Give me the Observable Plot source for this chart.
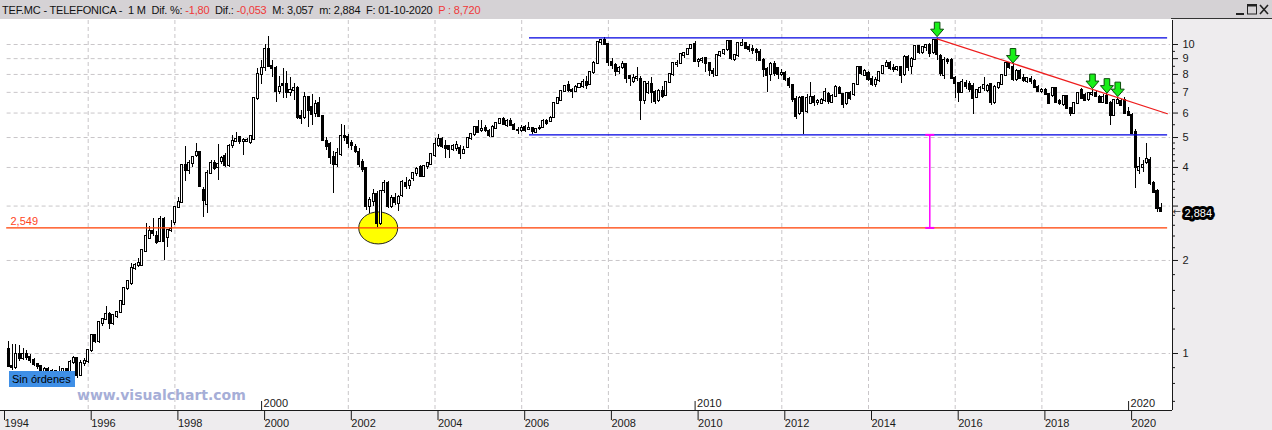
<!DOCTYPE html>
<html>
<head>
<meta charset="utf-8">
<script src="https://cdn.jsdelivr.net/npm/d3@7"></script>
<script src="https://cdn.jsdelivr.net/npm/@observablehq/plot@0.6"></script>
<style>
html,body{margin:0;padding:0;background:#eeecee;}
#wrap{position:relative;width:1272px;height:430px;overflow:hidden;background:#eeecee;font-family:"Liberation Sans",Arial,sans-serif;}
#titlebar{position:absolute;left:0;top:0;width:1272px;height:19px;background:#d5d2d5;}
#title{position:absolute;left:2px;top:1px;font-size:11px;line-height:18px;white-space:pre;color:#111;letter-spacing:-0.2px;}
#title .neg{color:#f03838;}
#plotbg{position:absolute;left:0;top:19px;width:1172px;height:391px;background:#fff;}
#rtop{position:absolute;left:1171px;top:18px;width:101px;height:1px;background:#333;}
#chart{position:absolute;left:0;top:20px;}
#orders{position:absolute;left:9px;top:371px;width:63px;height:16px;padding-left:3px;background:#3f8fe6;font-size:11px;line-height:16px;color:#000;white-space:nowrap;}
#wm{position:absolute;left:77px;top:388px;font-family:"DejaVu Sans",Verdana,sans-serif;font-weight:bold;font-size:14px;line-height:14px;color:#a6aed7;white-space:nowrap;}
#winbtns{position:absolute;left:1232px;top:3px;}
</style>
</head>
<body>
<div id="wrap">
  <div id="titlebar"></div>
  <div id="title">TEF.MC - TELEFONICA -  1 M  Dif. %: <span class="neg">-1,80</span>  Dif.: <span class="neg">-0,053</span>  M: 3,057  m: 2,884  F: 01-10-2020  <span class="neg">P : 8,720</span></div>
  <svg id="winbtns" width="40" height="14">
    <rect x="4" y="10" width="8" height="2" fill="#222"/>
    <rect x="15.5" y="1.5" width="9" height="9.5" fill="none" stroke="#222" stroke-width="1"/>
    <rect x="15.5" y="1.5" width="9" height="2" fill="#222"/>
    <path d="M28,2 L36,11 M36,2 L28,11" stroke="#222" stroke-width="1.6"/>
  </svg>
  <div id="plotbg"></div>
  <div id="rtop"></div>
  <div id="chart"></div>
  <div id="orders">Sin órdenes</div>
  <div id="wm">www.visualchart.com</div>
</div>
<script>
// ---- Monthly OHLC, Telefonica (TEF.MC), first candle March 1994 ----
const firstYear = 1994;
const firstMonth = 2; // months after January 1994
const open = [
  1.03,0.91,0.90,0.99,0.96,0.99,0.97,0.95,0.92,0.905,
  0.87,0.89,0.86,0.875,0.86,0.87,0.885,0.865,0.935,0.96,0.85,0.93,
  0.94,1.02,1.14,1.09,1.25,1.29,1.34,1.25,1.32,1.36,1.44,1.62,
  1.68,1.88,1.93,1.93,2.14,2.36,2.48,2.39,2.30,2.72,2.38,2.50,
  2.66,2.97,3.08,4.06,3.90,4.13,4.36,4.46,3.38,3.04,3.83,4.13,
  4.00,4.18,4.34,4.06,4.70,4.87,5.00,4.85,4.87,4.82,4.92,6.68,
  8.00,8.40,9.60,8.50,8.35,7.02,7.40,7.42,7.00,7.10,7.20,5.85,
  5.80,6.75,6.27,6.00,6.45,5.83,4.85,4.74,4.31,4.10,4.40,5.05,
  5.00,4.78,4.64,4.47,4.14,3.96,2.98,3.10,3.28,2.64,3.36,3.56,
  3.00,3.18,3.05,3.24,3.55,3.50,3.68,3.82,4.00,3.75,4.03,4.10,
  4.37,4.72,4.92,4.68,4.66,4.57,4.60,4.60,4.45,4.64,4.96,5.12,
  5.40,5.25,5.35,5.22,5.04,5.36,5.53,5.72,5.48,5.62,5.48,5.28,
  5.28,5.38,5.30,5.35,5.20,5.35,5.40,5.62,5.65,5.80,6.45,6.60,
  7.06,7.35,7.10,7.05,7.25,7.30,7.55,7.45,8.10,8.66,10.13,10.30,
  10.00,8.75,8.55,8.17,8.40,8.60,7.85,7.60,7.75,7.72,6.59,7.00,
  7.45,7.00,6.60,7.06,6.85,7.55,7.98,8.60,8.66,9.20,9.30,9.70,
  10.00,8.80,8.85,9.00,8.66,8.20,7.95,9.20,9.35,9.60,10.20,8.97,
  9.20,9.95,10.05,9.75,9.60,9.55,9.45,8.90,8.30,8.00,8.62,8.35,
  8.00,8.06,7.72,7.35,6.63,5.96,6.75,6.05,6.45,6.75,6.50,6.45,
  6.60,6.87,6.50,6.80,7.20,6.87,6.42,6.95,6.87,7.45,8.40,7.95,
  8.05,7.70,7.42,7.65,8.05,8.47,8.70,8.38,8.28,8.40,8.00,9.08,
  8.50,8.95,9.85,9.45,9.75,9.95,9.40,10.30,9.13,7.94,8.90,8.90,
  7.75,7.46,7.00,7.50,7.45,7.30,6.75,7.00,7.18,7.10,7.40,6.51,
  7.27,7.40,7.94,8.70,8.40,7.70,8.20,7.75,7.60,7.72,7.60,7.27,
  7.05,7.10,6.90,6.83,7.18,6.55,6.38,6.79,6.19,6.00,6.42,7.10,
  6.85,6.62,6.88,6.95,6.75,6.51,6.79,6.46,5.90,6.46,6.55,6.60,
  6.04,5.90,5.20,3.90,4.00,4.16,4.21,3.56,3.35,2.95
];
const high = [
  1.09,1.07,1.07,1.06,1.04,1.02,0.99,0.96,0.93,0.91,
  0.90,0.90,0.89,0.88,0.91,0.89,0.89,0.95,0.98,0.96,0.95,0.96,
  1.03,1.15,1.15,1.27,1.30,1.42,1.36,1.34,1.37,1.48,1.63,1.72,
  1.96,1.95,2.03,2.16,2.63,2.58,2.73,2.48,2.78,2.75,2.52,2.69,
  2.99,3.20,4.10,4.66,4.20,4.35,4.79,4.50,3.45,3.90,4.20,4.20,
  4.74,4.35,4.45,4.75,5.07,5.20,5.05,4.95,4.95,5.05,6.75,8.35,
  8.90,10.00,10.60,8.90,8.50,7.85,8.36,8.20,7.80,7.50,7.30,6.10,
  7.00,6.80,6.90,6.60,6.75,5.90,5.00,4.80,4.50,4.60,5.50,5.45,
  5.10,4.90,4.75,4.60,4.25,4.00,3.20,3.40,3.35,3.37,3.62,3.60,
  3.25,3.30,3.25,3.62,3.70,3.65,3.85,4.00,4.05,4.05,4.15,4.42,
  4.98,5.10,5.00,4.90,4.70,4.75,4.85,4.70,4.66,5.00,5.15,5.40,
  5.68,5.68,5.45,5.30,5.45,5.60,5.75,5.80,5.70,5.75,5.55,5.40,
  5.45,5.45,5.60,5.40,5.35,5.45,5.70,5.70,5.85,6.50,6.75,7.10,
  7.35,7.60,7.20,7.35,7.50,7.70,7.85,8.20,8.80,10.20,10.40,10.52,
  10.10,9.00,8.65,8.50,8.80,8.65,7.95,8.00,8.40,7.85,7.60,7.60,
  7.80,7.10,7.15,7.30,7.60,8.05,8.70,8.85,9.30,9.45,9.65,9.95,
  10.20,9.00,9.10,9.10,8.75,8.35,9.25,9.50,9.65,10.20,10.30,9.30,
  10.10,10.35,10.15,10.00,9.90,9.70,9.60,9.00,8.40,8.75,8.80,8.45,
  8.30,8.20,7.80,7.40,6.80,6.80,6.80,6.90,7.55,6.85,6.65,6.70,
  7.20,7.00,6.90,7.35,7.30,6.95,7.00,7.05,7.50,8.45,8.50,8.30,
  8.20,7.85,7.80,8.20,8.55,8.85,8.80,8.60,8.50,8.50,9.20,9.20,
  9.05,9.90,9.95,9.80,10.00,10.05,10.35,10.45,9.30,9.08,9.00,9.00,
  7.85,7.55,7.70,7.65,7.60,7.50,7.15,7.30,7.80,7.40,7.50,7.35,
  7.55,8.00,8.72,8.75,8.60,8.30,8.30,8.00,7.80,7.85,7.70,7.35,
  7.20,7.20,6.95,7.25,7.25,6.65,6.85,6.85,6.25,6.45,7.00,7.20,
  6.95,7.00,7.15,7.05,6.85,6.90,6.95,6.55,6.65,6.75,6.65,6.75,
  6.25,6.00,5.30,4.32,4.20,4.77,4.30,3.60,3.40,3.057
];
const low = [
  0.90,0.88,0.89,0.94,0.95,0.95,0.93,0.91,0.89,0.86,
  0.86,0.85,0.85,0.85,0.85,0.86,0.86,0.86,0.92,0.83,0.84,0.91,
  0.93,1.01,1.08,1.08,1.22,1.28,1.195,1.23,1.30,1.35,1.43,1.60,
  1.66,1.85,1.90,1.91,2.13,2.34,2.40,2.25,2.28,2.00,2.21,2.46,
  2.60,2.95,3.05,3.60,3.80,4.00,4.30,3.45,2.76,2.84,3.80,3.90,
  3.63,4.10,4.00,4.00,4.60,4.80,4.75,4.37,4.80,4.75,4.90,6.60,
  7.40,8.20,8.40,7.80,6.48,6.90,6.70,6.68,6.80,6.60,5.70,5.50,
  5.70,5.40,5.45,5.80,5.80,4.85,4.55,4.10,3.30,4.00,4.35,4.85,
  4.60,4.55,4.45,4.00,3.85,2.90,2.84,3.00,2.55,2.60,3.30,2.95,
  2.95,3.02,2.88,3.20,3.40,3.40,3.60,3.75,3.70,3.70,3.95,4.05,
  4.30,4.65,4.60,4.27,4.27,4.50,4.50,4.25,4.43,4.60,4.90,5.05,
  5.15,5.20,5.20,5.00,5.00,5.30,5.50,5.45,5.40,5.45,5.25,5.12,
  5.20,5.20,5.25,5.10,5.14,5.25,5.35,5.45,5.60,5.75,6.40,6.55,
  7.00,7.00,6.68,7.00,7.20,7.20,7.15,7.35,8.00,8.60,9.90,9.90,
  8.50,8.30,7.90,8.00,8.30,7.50,7.30,7.50,7.60,5.68,6.40,6.90,
  6.43,6.40,6.50,6.70,6.80,7.50,7.90,8.40,8.60,9.00,9.20,9.60,
  8.75,8.40,8.70,8.10,7.85,7.80,7.90,9.10,9.20,9.50,8.90,8.80,
  9.10,9.90,9.60,9.40,9.30,8.80,8.80,7.80,7.00,7.60,7.90,7.70,
  7.85,7.60,7.20,6.50,5.70,5.90,5.11,6.00,6.40,6.30,6.35,6.40,
  6.50,6.40,6.45,6.75,6.90,6.20,6.35,6.60,6.80,7.40,7.95,7.90,
  7.60,7.30,7.25,7.55,8.00,8.40,8.25,8.10,8.20,7.46,7.90,8.20,
  8.00,8.90,9.30,9.30,9.50,9.10,9.30,8.88,7.85,7.70,8.60,7.70,
  6.67,6.50,6.95,7.15,7.00,5.95,6.70,6.95,7.05,7.00,6.34,6.40,
  7.15,7.35,7.90,8.30,7.60,7.60,7.70,7.55,7.50,7.45,7.20,7.00,
  6.95,6.85,6.40,6.75,6.42,6.35,6.30,6.15,5.85,5.95,6.40,6.65,
  6.55,6.55,6.80,6.75,6.45,6.45,6.40,5.48,5.85,6.40,6.30,5.95,
  5.85,5.10,3.41,3.80,3.85,4.10,3.50,3.30,2.87,2.884
];
const close = [
  0.91,0.90,0.99,0.96,0.99,0.97,0.95,0.92,0.905,0.87,
  0.89,0.86,0.875,0.86,0.87,0.885,0.865,0.935,0.96,0.85,0.93,0.94,
  1.02,1.14,1.09,1.26,1.29,1.34,1.25,1.33,1.36,1.47,1.62,1.71,
  1.88,1.93,1.96,2.15,2.39,2.48,2.44,2.29,2.72,2.30,2.50,2.52,
  2.97,3.08,4.06,3.90,4.12,4.30,4.46,3.47,3.13,3.83,4.13,3.97,
  4.10,4.27,4.06,4.68,4.86,4.93,4.85,4.88,4.90,5.02,6.68,8.00,
  8.35,9.60,8.50,8.35,7.06,7.25,7.38,6.97,7.10,7.20,5.80,5.75,
  6.75,6.11,5.95,6.39,5.83,4.89,4.68,4.31,4.10,4.45,5.05,5.00,
  4.78,4.70,4.52,4.10,3.95,2.98,3.13,3.28,2.64,3.34,3.56,3.00,
  3.18,3.08,3.20,3.58,3.47,3.60,3.82,3.95,3.75,4.03,4.12,4.39,
  4.75,4.92,4.68,4.60,4.57,4.66,4.72,4.43,4.55,4.96,5.11,5.38,
  5.20,5.30,5.25,5.07,5.40,5.53,5.71,5.50,5.62,5.48,5.30,5.27,
  5.35,5.25,5.35,5.22,5.30,5.33,5.62,5.55,5.75,6.45,6.68,7.06,
  7.30,7.10,7.05,7.25,7.40,7.55,7.35,8.10,8.70,10.13,10.30,10.00,
  8.75,8.55,8.17,8.36,8.60,7.77,7.75,7.78,7.83,6.59,7.55,7.45,
  7.00,6.55,7.06,6.80,7.55,7.98,8.66,8.70,9.26,9.35,9.60,9.93,
  8.80,8.85,8.95,8.66,8.23,8.06,9.20,9.45,9.55,10.20,9.00,9.20,
  10.05,10.10,9.70,9.60,9.55,9.45,8.88,8.30,7.94,8.60,8.06,8.00,
  8.08,7.72,7.35,6.63,5.85,6.70,6.05,6.70,6.75,6.50,6.52,6.60,
  7.00,6.55,6.80,7.24,6.95,6.40,6.95,6.68,7.45,8.40,8.06,8.20,
  7.70,7.42,7.65,8.10,8.47,8.70,8.34,8.28,8.40,7.94,9.08,8.44,
  8.95,9.85,9.45,9.75,9.95,9.32,10.30,9.30,8.03,8.90,8.80,7.75,
  7.46,7.00,7.55,7.30,7.13,6.70,7.08,7.18,7.36,7.30,6.51,7.27,
  7.46,7.94,8.66,8.40,7.70,8.20,7.75,7.65,7.75,7.58,7.27,7.05,
  7.08,6.88,6.46,7.18,6.51,6.42,6.79,6.19,6.00,6.42,6.95,6.70,
  6.60,6.95,6.95,6.80,6.51,6.75,6.46,5.90,6.59,6.59,6.35,6.00,
  5.90,5.14,4.00,4.00,4.07,4.23,3.56,3.33,2.937,2.884
];

// ---- axes ----
const xTickYears = [1994,1996,1998,2000,2002,2004,2006,2008,2010,2012,2014,2016,2018,2020];
const decadeYears = [2000,2010,2020];
const gridYears = [1996,1998,2002,2004,2006,2008,2012,2014,2016,2018];
const yMajor = [1,2,3,4,5,6,7,8,9,10];
const yLabels = [1,2,4,5,6,7,8,9,10];
const yMinor = [0.7,0.8,0.9,1.2,1.4,1.6,1.8,2.2,2.4,2.6,2.8,3.2,3.4,3.6,3.8,4.2,4.4,4.6,4.8,5.5,6.5,7.5,8.5,9.5];

// ---- annotations (in data units: fractional year, price) ----
const supportLevel = 2.549;
const channelLevels = [10.51, 5.10];
const supportFrom = 1994.12, channelFrom = 2006.18, linesTo = 2020.9;
const gridFrom = 1994.13, gridTo = 2020.97;
const trendDates = [2015.583, 2020.895];
const trendValues = [10.43, 5.97];
const arrowDates = [2015.583, 2017.333, 2019.167, 2019.5, 2019.75];
const arrowTips = [10.6, 8.71, 7.2, 6.96, 6.78];
const measure = {date: 2015.414, from: 5.10, to: 2.549};
const highlight = {date: 2002.69, value: 2.549};
const lastPrice = 2.884;

// ---- build table ----
const candles = open.map((o, i) => ({
  date: firstYear + (firstMonth + i) / 12,
  open: o, high: high[i], low: low[i], close: close[i]
}));
const half = 0.5 / 12;
const trend = trendDates.map((d, i) => ({date: d, value: trendValues[i]}));
const arrows = arrowDates.map((d, i) => ({date: d, tip: arrowTips[i]}));

// scales: 43.35 px per year, 1994 at x=1 ; 309 px per decade on price
const pxYear = 43.35;
const xDomain = [1994 - 1 / pxYear, 1994 + 1171 / pxYear];
const yDomain = [Math.pow(10, -57 / 309), Math.pow(10, 333 / 309)];

const arrowSymbol = {draw(c) {
  c.moveTo(0, 0); c.lineTo(-6.5, -7.5); c.lineTo(-2.8, -7.5); c.lineTo(-2.8, -14.5);
  c.lineTo(2.8, -14.5); c.lineTo(2.8, -7.5); c.lineTo(6.5, -7.5); c.closePath();
}};
const ellipseSymbol = {draw(c) {
  const rx = 19.5, ry = 16, k = 0.5523;
  c.moveTo(rx, 0);
  c.bezierCurveTo(rx, ry * k, rx * k, ry, 0, ry);
  c.bezierCurveTo(-rx * k, ry, -rx, ry * k, -rx, 0);
  c.bezierCurveTo(-rx, -ry * k, -rx * k, -ry, 0, -ry);
  c.bezierCurveTo(rx * k, -ry, rx, -ry * k, rx, 0);
  c.closePath();
}};
const capSymbol = {draw(c) { c.moveTo(-4.5, 0); c.lineTo(4.5, 0); }};

const gridColor = "#c9c6c9";
const axisColor = "#1a1a1a";
const fmt = v => v.toFixed(3).replace(".", ",");

const chart = Plot.plot({
  width: 1272, height: 410,
  marginTop: 0, marginRight: 100, marginBottom: 20, marginLeft: 0,
  x: {type: "linear", domain: xDomain, axis: null},
  y: {type: "log", domain: yDomain, axis: null},
  style: {background: "transparent", fontFamily: "'Liberation Sans', Arial, sans-serif", fontSize: "11px", color: axisColor, overflow: "visible"},
  marks: [
    Plot.ruleX(gridYears, {x: d => d, stroke: gridColor, strokeDasharray: "4,3"}),
    Plot.ruleY(yMajor, {y: d => d, x1: gridFrom, x2: gridTo, stroke: gridColor, strokeDasharray: "4,3"}),
    Plot.dot([highlight], {x: "date", y: "value", symbol: ellipseSymbol, fill: "#ffff00", stroke: "#222", strokeWidth: 1}),
    Plot.ruleX(candles, {x: "date", y1: "low", y2: "high", stroke: "#000", strokeWidth: 1, shapeRendering: "crispEdges"}),
    Plot.rect(candles.filter(d => d.close < d.open), {
      x1: d => d.date - half, x2: d => d.date + half, y1: "close", y2: "open",
      fill: "#000", stroke: "#000", strokeWidth: 1,
      insetLeft: 0.8, insetRight: 0.8, insetTop: -0.5, insetBottom: -0.5, shapeRendering: "crispEdges"}),
    Plot.rect(candles.filter(d => d.close >= d.open), {
      x1: d => d.date - half, x2: d => d.date + half, y1: "open", y2: "close",
      fill: "#fff", stroke: "#000", strokeWidth: 1,
      insetLeft: 0.8, insetRight: 0.8, insetTop: -0.5, insetBottom: -0.5, shapeRendering: "crispEdges"}),
    Plot.ruleY([supportLevel], {y: d => d, x1: supportFrom, x2: linesTo, stroke: "#ff3c00", strokeWidth: 1.3}),
    Plot.ruleY(channelLevels, {y: d => d, x1: channelFrom, x2: linesTo, stroke: "#0000e0", strokeWidth: 1.3}),
    Plot.line(trend, {x: "date", y: "value", stroke: "#ee1c1c", strokeWidth: 1.2}),
    Plot.ruleX([measure], {x: "date", y1: "from", y2: "to", stroke: "#ff00ff", strokeWidth: 1.5}),
    Plot.dot([measure], {x: "date", y: "from", symbol: capSymbol, stroke: "#ff00ff", strokeWidth: 2}),
    Plot.dot([measure], {x: "date", y: "to", symbol: capSymbol, stroke: "#ff00ff", strokeWidth: 2}),
    Plot.dot(arrows, {x: "date", y: "tip", symbol: arrowSymbol, fill: "#19f019", stroke: "#0b4d0b", strokeWidth: 1}),
    Plot.text([supportLevel], {y: d => d, frameAnchor: "left", dx: 10, dy: -2.5, lineAnchor: "bottom", textAnchor: "start", text: d => fmt(d), fill: "#ff4422", fontSize: 11}),
    // axis frame lines
    Plot.ruleY([yDomain[0]], {y: d => d, stroke: axisColor}),
    Plot.ruleX([xDomain[1]], {x: d => d, stroke: axisColor}),
    // bottom axis
    Plot.axisX({ticks: xTickYears, tickSize: 10, tickPadding: -1, textAnchor: "start", dx: 3, tickFormat: d => String(d), fontSize: 11, label: null}),
    Plot.ruleX(decadeYears, {x: d => d, y1: yDomain[0], y2: yDomain[0], insetBottom: 9, stroke: axisColor}),
    Plot.text(decadeYears, {x: d => d, frameAnchor: "bottom", dx: 2, dy: -4, lineAnchor: "bottom", textAnchor: "start", text: d => String(d), fontSize: 11}),
    // right axis: ticks and labels
    Plot.ruleY(yMajor, {y: d => d, x1: xDomain[1], x2: xDomain[1], insetRight: -6, stroke: axisColor}),
    Plot.ruleY(yMinor, {y: d => d, x1: xDomain[1], x2: xDomain[1], insetRight: -3, stroke: axisColor}),
    Plot.text(yLabels, {y: d => d, frameAnchor: "right", dx: 10, textAnchor: "start", text: d => String(d), fontSize: 11, fill: axisColor}),
    // last price label
    Plot.text([lastPrice], {y: d => d, frameAnchor: "right", dx: 0, textAnchor: "start", text: () => "←", fontSize: 10, fill: "#333", fontFamily: "DejaVu Sans"}),
    Plot.text([lastPrice], {y: d => d, frameAnchor: "right", dx: 12, dy: 2, textAnchor: "start", text: d => fmt(d), fill: "#fff", stroke: "#000", strokeWidth: 6, strokeLinejoin: "round", paintOrder: "stroke", fontSize: 11})
  ]
});
document.getElementById("chart").appendChild(chart);
</script>
</body>
</html>
